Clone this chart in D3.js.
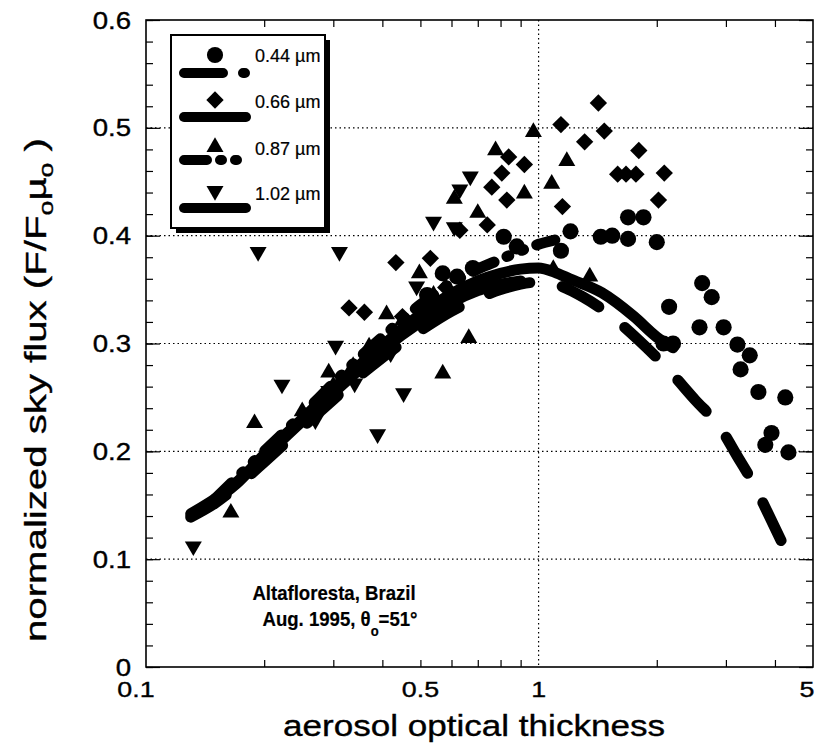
<!DOCTYPE html>
<html><head><meta charset="utf-8">
<script src="https://cdn.jsdelivr.net/npm/d3@7"></script>
<style>
body{margin:0;background:#fff}
text{font-family:"Liberation Sans",Arial,Helvetica,sans-serif;fill:#000}
</style>
</head><body>
<svg id="c" width="817" height="750"></svg>
<script>
// ---------- data ----------
const yTicks = [0, 0.1, 0.2, 0.3, 0.4, 0.5, 0.6];
const yTickLabels = ["0", "0.1", "0.2", "0.3", "0.4", "0.5", "0.6"];
const yMinor = d3.range(0, 0.601, 0.02);
const xTicks = [0.1, 0.5, 1, 5];
const xTickLabels = ["0.1", "0.5", "1", "5"];
const xMinor = [0.2, 0.3, 0.4, 0.5, 0.6, 0.7, 0.8, 0.9, 2, 3, 4];
const yGrid = [0.1, 0.2, 0.3, 0.4, 0.5];
const xGrid = [1];

const seriesNames = ["0.44 \u00b5m", "0.66 \u00b5m", "0.87 \u00b5m", "1.02 \u00b5m"];

const obs044 = [[0.815,0.399],[0.88,0.39],[1.14,0.386],[1.206,0.404],[1.44,0.399],[1.54,0.400],[1.69,0.397],[1.69,0.417],[1.85,0.417],[2.0,0.394],
  [2.61,0.356],[2.76,0.343],[2.15,0.334],[2.57,0.315],[2.96,0.315],[2.08,0.300],[2.20,0.300],[3.21,0.299],[3.45,0.289],[3.27,0.276],
  [3.63,0.255],[4.25,0.250],[3.92,0.217],[3.78,0.206],[4.33,0.199],[0.57,0.365],[0.62,0.362],[0.52,0.345],[0.68,0.37]];
const obs066 = [[1.42,0.523],[1.14,0.503],[1.47,0.497],[1.31,0.487],[1.80,0.479],[1.59,0.457],[1.67,0.457],[1.77,0.457],[2.09,0.458],[2.02,0.433],[1.15,0.427],
  [0.839,0.473],[0.806,0.458],[0.76,0.445],[0.83,0.433],[0.92,0.466],[0.74,0.41],[0.63,0.405],[0.433,0.375],[0.53,0.379],[0.329,0.333],[0.36,0.329],
  [0.45,0.325],[0.58,0.352]];
const obs087 = [[0.189,0.227],[0.1645,0.144],[0.292,0.274],[0.337,0.280],[0.41,0.328],[0.57,0.273],[0.664,0.306],[0.497,0.366],[1.09,0.37],[1.35,0.363],
  [0.777,0.480],[0.97,0.497],[1.18,0.470],[1.08,0.449],[0.92,0.44],[0.61,0.435],[0.70,0.422],
  [0.25,0.238],[0.3,0.262],[0.37,0.298],[0.45,0.322],[0.54,0.346]];
const obs102 = [[0.132,0.111],[0.222,0.261],[0.292,0.255],[0.304,0.297],[0.453,0.253],[0.389,0.215],[0.311,0.384],[0.489,0.352],[0.193,0.384],
  [0.67,0.454],[0.63,0.442],[0.54,0.412],[0.61,0.407],
  [0.27,0.228],[0.34,0.262],[0.42,0.29]];

const calc044 = [[0.13,0.139],[0.15,0.152],[0.18,0.175],[0.2,0.19],[0.25,0.222],[0.3,0.248],[0.35,0.270],[0.4,0.287],[0.5,0.312],[0.6,0.330],[0.7,0.342],
  [0.8,0.350],[0.9,0.355],[1.0,0.357],[1.1,0.355],[1.3,0.343],[1.5,0.328],[1.8,0.303],[2.1,0.279],[2.5,0.248],[2.9,0.222],[3.2,0.196],[3.5,0.172],[3.8,0.146],[4.2,0.113]];
const calc066 = [[0.14,0.148],[0.17,0.17],[0.2,0.197],[0.25,0.23],[0.3,0.258],[0.35,0.28],[0.4,0.298],[0.5,0.327],[0.6,0.346],[0.7,0.358],[0.8,0.365],
  [0.9,0.369],[1.0,0.370],[1.1,0.366],[1.2,0.36],[1.45,0.347],[1.75,0.325],[2.0,0.306],[2.2,0.296]];
const calc087 = [[0.15,0.156],[0.2,0.2],[0.25,0.234],[0.3,0.263],[0.35,0.287],[0.4,0.306],[0.5,0.336],[0.6,0.356],[0.7,0.369],[0.8,0.378],[0.9,0.386],[1.0,0.392],[1.1,0.396]];
const calc102 = [[0.13,0.142],[0.16,0.163],[0.2,0.195],[0.25,0.228],[0.3,0.254],[0.35,0.276],[0.4,0.294],[0.5,0.320],[0.6,0.338],[0.7,0.349],[0.8,0.355],[0.9,0.358]];

// ---------- layout ----------
const svg = d3.select("#c");
const L = 146, R = 813, T = 20, B = 667;
const x = d3.scaleLog().domain([0.1, 5]).range([L, R]);
const y = d3.scaleLinear().domain([0, 0.6]).range([B, T]);

const series = [
  {obs: obs044, calc: calc044, sym: "circle", dash: "42,33", legDash: "39,20,2,20"},
  {obs: obs066, calc: calc066, sym: "diamond", dash: null, legDash: null},
  {obs: obs087, calc: calc087, sym: "up", dash: "23,14,2,14,2,14", legDash: "23,13,2,13,2,13"},
  {obs: obs102, calc: calc102, sym: "down", dash: null, legDash: null}
];

function symPath(s) {
  if (s === "circle") return d3.symbol(d3.symbolCircle, 205)();
  if (s === "diamond") return d3.symbol(d3.symbolSquare, 150)();
  return d3.symbol(d3.symbolTriangle, 125)();
}
function symTransform(s, px, py) {
  if (s === "diamond") return `translate(${px},${py}) rotate(45)`;
  if (s === "down") return `translate(${px},${py-1}) rotate(180)`;
  if (s === "up") return `translate(${px},${py+1})`;
  return `translate(${px},${py})`;
}

// gridlines
const grid = svg.append("g");
grid.selectAll(".gy").data(yGrid).enter().append("line")
  .attr("x1", L).attr("x2", R).attr("y1", d => y(d)).attr("y2", d => y(d))
  .attr("stroke", "#000").attr("stroke-width", 1.2).attr("stroke-dasharray", "1.5,3");
grid.selectAll(".gx").data(xGrid).enter().append("line")
  .attr("x1", d => x(d)).attr("x2", d => x(d)).attr("y1", T).attr("y2", B)
  .attr("stroke", "#000").attr("stroke-width", 1.2).attr("stroke-dasharray", "1.5,3");

// axes ticks (inward)
function styleAxis(g) {
  g.select(".domain").remove();
  g.selectAll("line").attr("stroke", "#000").attr("stroke-width", 1.2);
  g.selectAll("text").remove();
}
svg.append("g").attr("transform", `translate(${L},0)`)
  .call(d3.axisLeft(y).tickValues(yMinor).tickSize(-7).tickFormat("")).call(styleAxis);
svg.append("g").attr("transform", `translate(${L},0)`)
  .call(d3.axisLeft(y).tickValues(yTicks).tickSize(-14).tickFormat("")).call(styleAxis);
svg.append("g").attr("transform", `translate(${R},0)`)
  .call(d3.axisRight(y).tickValues(yMinor).tickSize(-7).tickFormat("")).call(styleAxis);
svg.append("g").attr("transform", `translate(${R},0)`)
  .call(d3.axisRight(y).tickValues(yTicks).tickSize(-14).tickFormat("")).call(styleAxis);
svg.append("g").attr("transform", `translate(0,${B})`)
  .call(d3.axisBottom(x).tickValues(xMinor).tickSize(-7).tickFormat("")).call(styleAxis);
svg.append("g").attr("transform", `translate(0,${T})`)
  .call(d3.axisTop(x).tickValues(xMinor).tickSize(-7).tickFormat("")).call(styleAxis);

// frame
svg.append("rect").attr("x", L).attr("y", T).attr("width", R - L).attr("height", B - T)
  .attr("fill", "none").attr("stroke", "#000").attr("stroke-width", 1.6);

// stretched text helper
function stext(g, px, py, str, opt) {
  const t = g.append("text")
    .attr("transform", `translate(${px},${py})${opt.rot ? " rotate(" + opt.rot + ")" : ""} scale(${opt.sx || 1},1)`)
    .attr("text-anchor", opt.anchor || "start")
    .attr("font-size", opt.size).attr("font-weight", opt.weight || "normal")
    .attr("stroke", "#000").attr("stroke-width", opt.bold || 0.35);
  if (str !== null) t.text(str);
  return t;
}

// tick labels
const lab = svg.append("g");
yTicks.forEach((v, i) => stext(lab, 131, y(v) + 8.5, yTickLabels[i], {anchor: "end", size: 23, sx: 1.2}));
xTicks.forEach((v, i) => stext(lab, x(v) - (i === 0 ? 10 : 0) - (i === 3 ? 6 : 0), 697, xTickLabels[i], {anchor: "middle", size: 22, sx: 1.22}));

// axis titles
stext(lab, 474, 736, "aerosol optical thickness", {anchor: "middle", size: 29, sx: 1.21});
const yt = stext(lab, 46, 390, null, {anchor: "middle", size: 30, sx: 1.34, rot: -90});
yt.append("tspan").text("normalized sky flux (F/F");
yt.append("tspan").attr("font-size", 20).attr("dy", 7).text("o");
yt.append("tspan").attr("dy", -7).text("\u00b5");
yt.append("tspan").attr("font-size", 20).attr("dy", 7).text("o");
yt.append("tspan").attr("dy", -7).text(" )");

// calculated curves
const line = d3.line().x(d => x(d[0])).y(d => y(d[1])).curve(d3.curveMonotoneX);
const curves = svg.append("g");
series.forEach(s => {
  curves.append("path").attr("d", line(s.calc)).attr("fill", "none")
    .attr("stroke", "#000").attr("stroke-width", 11)
    .attr("stroke-linecap", "round").attr("stroke-linejoin", "round")
    .attr("stroke-dasharray", s.dash);
});

// observations
const marks = svg.append("g");
series.forEach(s => {
  marks.selectAll(null).data(s.obs).enter().append("path")
    .attr("d", symPath(s.sym))
    .attr("transform", d => symTransform(s.sym, x(d[0]), y(d[1])))
    .attr("fill", "#000");
});

// annotation
const ann = svg.append("g");
stext(ann, 334, 600, "Altafloresta,  Brazil", {anchor: "middle", size: 20, weight: "bold", sx: 0.93, bold: 0.2});
const a2 = stext(ann, 340, 626, null, {anchor: "middle", size: 20, weight: "bold", sx: 0.93, bold: 0.2});
a2.append("tspan").text("Aug. 1995,  \u03b8");
a2.append("tspan").attr("font-size", 14).attr("dy", 10).text("o");
a2.append("tspan").attr("dy", -10).text("=51\u00b0");

// legend
const lg = svg.append("g");
const LX = 171, LY = 35, LW = 154, LH = 193;
lg.append("rect").attr("x", LX + 5).attr("y", LY + 5).attr("width", LW).attr("height", LH).attr("fill", "#000");
lg.append("rect").attr("x", LX).attr("y", LY).attr("width", LW).attr("height", LH)
  .attr("fill", "#fff").attr("stroke", "#000").attr("stroke-width", 2);
const rowMarkY = [55, 100, 146, 192];
const rowLineY = [73, 117, 160, 208];
const rowTextY = [62, 108, 155, 200];
series.forEach((s, i) => {
  lg.append("path").attr("d", symPath(s.sym)).attr("transform", symTransform(s.sym, 215, rowMarkY[i])).attr("fill", "#000");
  lg.append("line").attr("x1", 184).attr("x2", 246).attr("y1", rowLineY[i]).attr("y2", rowLineY[i])
    .attr("stroke", "#000").attr("stroke-width", 10).attr("stroke-linecap", "round")
    .attr("stroke-dasharray", s.legDash);
  stext(lg, 255, rowTextY[i], seriesNames[i], {size: 18, sx: 1.0, bold: 0.2});
});
</script>
</body></html>
